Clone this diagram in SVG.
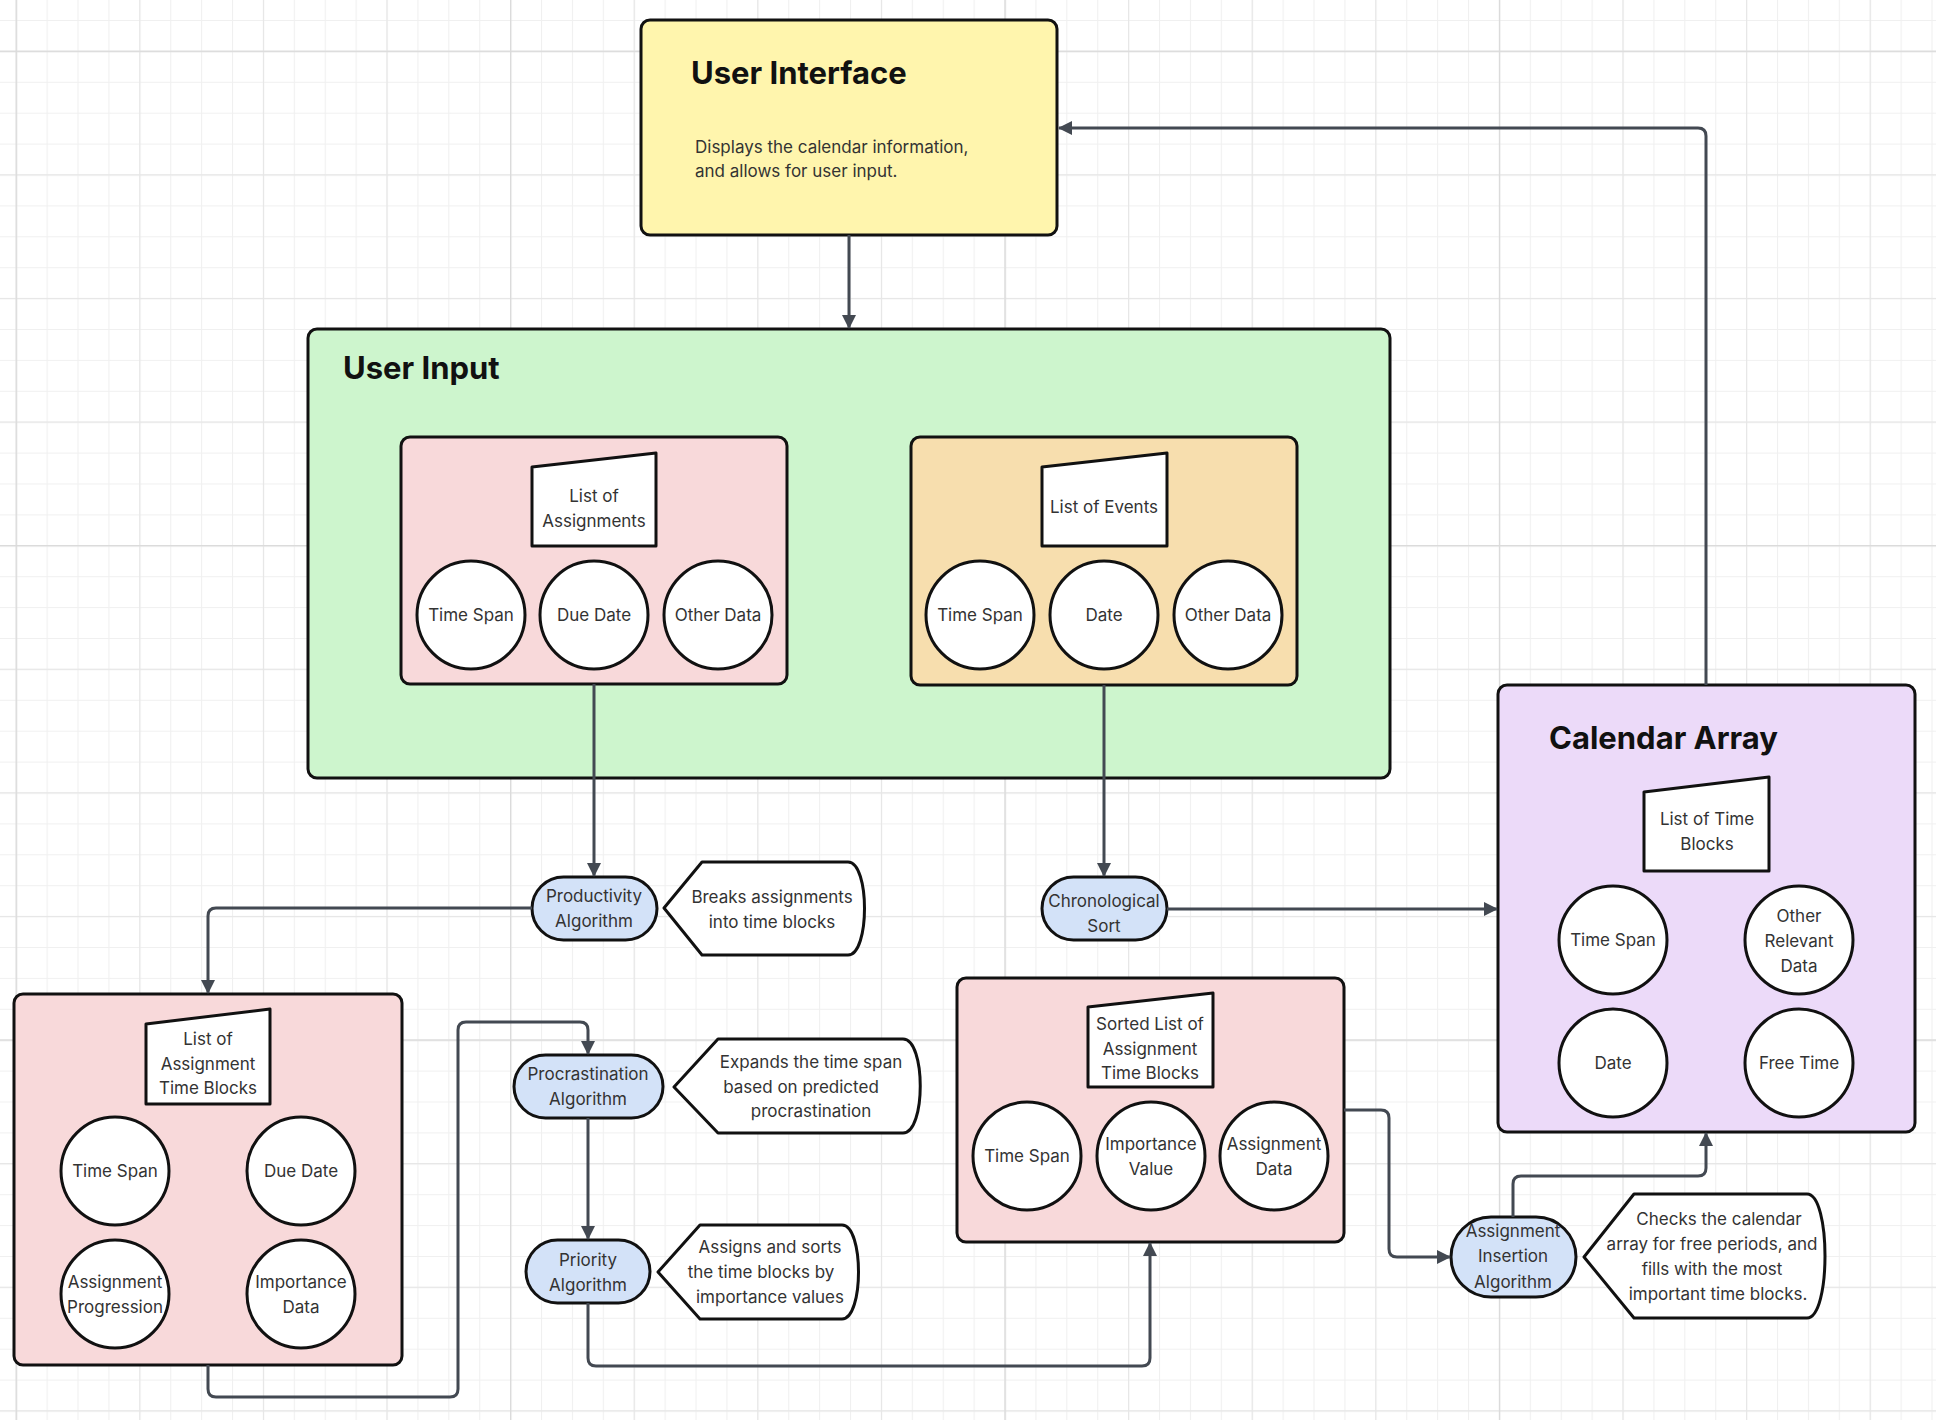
<svg xmlns="http://www.w3.org/2000/svg" width="1936" height="1420" viewBox="0 0 1936 1420">
<style>
  text { font-family: Inter, "Liberation Sans", sans-serif; }
  .title { font-size: 31px; font-weight: 700; fill: #111; }
  .lbl { font-size: 17px; fill: #333; text-anchor: middle; }
  .desc { font-size: 17px; fill: #333; }
  .box { stroke: #111; stroke-width: 3; }
  .circ { fill: #fff; stroke: #111; stroke-width: 3; }
  .list { fill: #fff; stroke: #111; stroke-width: 3; stroke-linejoin: round; }
  .algo { fill: #d3e2f8; stroke: #111; stroke-width: 3; }
  .callout { fill: #fff; stroke: #111; stroke-width: 3; stroke-linejoin: round; }
  .conn { fill: none; stroke: #434952; stroke-width: 3; marker-end: url(#arrow); }
</style>
<defs>
  <marker id="arrow" markerUnits="userSpaceOnUse" markerWidth="14" markerHeight="14" refX="13" refY="7" orient="auto">
    <path d="M0,0 L14,7 L0,14 Z" fill="#434952"/>
  </marker>
  <pattern id="gMinor" patternUnits="userSpaceOnUse" x="15.7" y="20" width="30.9" height="30.9">
    <path d="M0.5,0 V30.9 M0,0.5 H30.9" stroke="#f0f0f0" stroke-width="1.2" fill="none"/>
  </pattern>
  <pattern id="gMid" patternUnits="userSpaceOnUse" x="15.7" y="50.7" width="123.6" height="123.6">
    <path d="M0.5,0 V123.6 M0,0.5 H123.6" stroke="#e6e6e6" stroke-width="1.3" fill="none"/>
  </pattern>
  <pattern id="gMajor" patternUnits="userSpaceOnUse" x="15.7" y="50.7" width="494.4" height="494.4">
    <path d="M0.5,0 V494.4 M0,0.5 H494.4" stroke="#dadada" stroke-width="1.5" fill="none"/>
  </pattern>
</defs>

<rect x="0" y="0" width="1936" height="1420" fill="#ffffff"/>
<rect x="0" y="0" width="1936" height="1420" fill="url(#gMinor)"/>
<rect x="0" y="0" width="1936" height="1420" fill="url(#gMid)"/>
<rect x="0" y="0" width="1936" height="1420" fill="url(#gMajor)"/>

<!-- User Interface -->
<g id="user-interface">
  <rect class="box" x="641" y="20" width="416" height="215" rx="9" fill="#fff5ad"/>
  <text class="title" x="691" y="84">User Interface</text>
  <text class="desc" x="695" y="153">Displays the calendar information,</text>
  <text class="desc" x="695" y="177">and allows for user input.</text>
</g>

<!-- User Input -->
<g id="user-input">
  <rect class="box" x="308" y="329" width="1082" height="449" rx="9" fill="#cdf5cd"/>
  <text class="title" x="343" y="379">User Input</text>
</g>

<g id="assignments-group">
  <rect class="box" x="401" y="437" width="386" height="247" rx="9" fill="#f8d9da"/>
  <path class="list" d="M532,467 L656,453 V546 H532 Z"/>
  <text class="lbl" x="594" y="502">List of</text>
  <text class="lbl" x="594" y="527">Assignments</text>
  <circle class="circ" cx="471" cy="615" r="54"/>
  <text class="lbl" x="471" y="621">Time Span</text>
  <circle class="circ" cx="594" cy="615" r="54"/>
  <text class="lbl" x="594" y="621">Due Date</text>
  <circle class="circ" cx="718" cy="615" r="54"/>
  <text class="lbl" x="718" y="621">Other Data</text>
</g>

<g id="events-group">
  <rect class="box" x="911" y="437" width="386" height="248" rx="9" fill="#f7deae"/>
  <path class="list" d="M1042,467 L1167,453 V546 H1042 Z"/>
  <text class="lbl" x="1104" y="513">List of Events</text>
  <circle class="circ" cx="980" cy="615" r="54"/>
  <text class="lbl" x="980" y="621">Time Span</text>
  <circle class="circ" cx="1104" cy="615" r="54"/>
  <text class="lbl" x="1104" y="621">Date</text>
  <circle class="circ" cx="1228" cy="615" r="54"/>
  <text class="lbl" x="1228" y="621">Other Data</text>
</g>

<!-- Calendar Array -->
<g id="calendar-array">
  <rect class="box" x="1498" y="685" width="417" height="447" rx="9" fill="#ecdaf9"/>
  <text class="title" x="1549" y="749">Calendar Array</text>
  <path class="list" d="M1644,792 L1769,777 V871 H1644 Z"/>
  <text class="lbl" x="1707" y="825">List of Time</text>
  <text class="lbl" x="1707" y="850">Blocks</text>
  <circle class="circ" cx="1613" cy="940" r="54"/>
  <text class="lbl" x="1613" y="946">Time Span</text>
  <circle class="circ" cx="1799" cy="940" r="54"/>
  <text class="lbl" x="1799" y="922">Other</text>
  <text class="lbl" x="1799" y="947">Relevant</text>
  <text class="lbl" x="1799" y="972">Data</text>
  <circle class="circ" cx="1613" cy="1063" r="54"/>
  <text class="lbl" x="1613" y="1069">Date</text>
  <circle class="circ" cx="1799" cy="1063" r="54"/>
  <text class="lbl" x="1799" y="1069">Free Time</text>
</g>

<!-- Assignment time blocks -->
<g id="assignment-time-blocks">
  <rect class="box" x="14" y="994" width="388" height="371" rx="9" fill="#f8d9da"/>
  <path class="list" d="M146,1024 L270,1009 V1104 H146 Z"/>
  <text class="lbl" x="208" y="1045">List of</text>
  <text class="lbl" x="208" y="1070">Assignment</text>
  <text class="lbl" x="208" y="1094">Time Blocks</text>
  <circle class="circ" cx="115" cy="1171" r="54"/>
  <text class="lbl" x="115" y="1177">Time Span</text>
  <circle class="circ" cx="301" cy="1171" r="54"/>
  <text class="lbl" x="301" y="1177">Due Date</text>
  <circle class="circ" cx="115" cy="1294" r="54"/>
  <text class="lbl" x="115" y="1288">Assignment</text>
  <text class="lbl" x="115" y="1313">Progression</text>
  <circle class="circ" cx="301" cy="1294" r="54"/>
  <text class="lbl" x="301" y="1288">Importance</text>
  <text class="lbl" x="301" y="1313">Data</text>
</g>

<!-- Sorted list -->
<g id="sorted-time-blocks">
  <rect class="box" x="957" y="978" width="387" height="264" rx="9" fill="#f8d9da"/>
  <path class="list" d="M1088,1007 L1213,993 V1087 H1088 Z"/>
  <text class="lbl" x="1150" y="1030">Sorted List of</text>
  <text class="lbl" x="1150" y="1055">Assignment</text>
  <text class="lbl" x="1150" y="1079">Time Blocks</text>
  <circle class="circ" cx="1027" cy="1156" r="54"/>
  <text class="lbl" x="1027" y="1162">Time Span</text>
  <circle class="circ" cx="1151" cy="1156" r="54"/>
  <text class="lbl" x="1151" y="1150">Importance</text>
  <text class="lbl" x="1151" y="1175">Value</text>
  <circle class="circ" cx="1274" cy="1156" r="54"/>
  <text class="lbl" x="1274" y="1150">Assignment</text>
  <text class="lbl" x="1274" y="1175">Data</text>
</g>

<!-- Algorithms -->
<g id="productivity-algorithm">
  <rect class="algo" x="532" y="877" width="125" height="63" rx="31.5"/>
  <text class="lbl" x="594" y="902">Productivity</text>
  <text class="lbl" x="594" y="927">Algorithm</text>
</g>
<g id="productivity-note">
  <path class="callout" d="M664,908 L702,862 H848 C870,862 870,955 848,955 H702 Z"/>
  <text class="lbl" x="772" y="903">Breaks assignments</text>
  <text class="lbl" x="772" y="928">into time blocks</text>
</g>

<g id="chronological-sort">
  <rect class="algo" x="1042" y="877" width="125" height="63" rx="31.5"/>
  <text class="lbl" x="1104" y="907">Chronological</text>
  <text class="lbl" x="1104" y="932">Sort</text>
</g>

<g id="procrastination-algorithm">
  <rect class="algo" x="514" y="1055" width="149" height="63" rx="31.5"/>
  <text class="lbl" x="588" y="1080">Procrastination</text>
  <text class="lbl" x="588" y="1105">Algorithm</text>
</g>
<g id="procrastination-note">
  <path class="callout" d="M674,1087 L718,1039 H903 C926,1039 926,1133 903,1133 H718 Z"/>
  <text class="lbl" x="811" y="1068">Expands the time span</text>
  <text class="lbl" x="801" y="1093">based on predicted</text>
  <text class="lbl" x="811" y="1117">procrastination</text>
</g>

<g id="priority-algorithm">
  <rect class="algo" x="526" y="1240" width="124" height="63" rx="31.5"/>
  <text class="lbl" x="588" y="1266">Priority</text>
  <text class="lbl" x="588" y="1291">Algorithm</text>
</g>
<g id="priority-note">
  <path class="callout" d="M658,1272 L700,1225 H842 C864,1225 864,1319 842,1319 H700 Z"/>
  <text class="lbl" x="770" y="1253">Assigns and sorts</text>
  <text class="lbl" x="761" y="1278">the time blocks by</text>
  <text class="lbl" x="770" y="1303">importance values</text>
</g>

<g id="assignment-insertion-algorithm">
  <rect class="algo" x="1451" y="1217" width="125" height="80" rx="40"/>
  <text class="lbl" x="1513" y="1237">Assignment</text>
  <text class="lbl" x="1513" y="1262">Insertion</text>
  <text class="lbl" x="1513" y="1288">Algorithm</text>
</g>
<g id="insertion-note">
  <path class="callout" d="M1584,1257 L1634,1194 H1807 C1831,1194 1831,1318 1807,1318 H1634 Z"/>
  <text class="lbl" x="1719" y="1225">Checks the calendar</text>
  <text class="lbl" x="1712" y="1250">array for free periods, and</text>
  <text class="lbl" x="1712" y="1275">fills with the most</text>
  <text class="lbl" x="1718" y="1300">important time blocks.</text>
</g>

<!-- Connectors -->
<g id="connectors">
  <path class="conn" d="M849,235 V328"/>
  <path class="conn" d="M1706,685 V136 Q1706,128 1698,128 H1059"/>
  <path class="conn" d="M594,684 V876"/>
  <path class="conn" d="M1104,685 V876"/>
  <path class="conn" d="M532,908 H216 Q208,908 208,916 V993"/>
  <path class="conn" d="M208,1365 V1389 Q208,1397 216,1397 H450 Q458,1397 458,1389 V1030 Q458,1022 466,1022 H580 Q588,1022 588,1030 V1054"/>
  <path class="conn" d="M588,1118 V1239"/>
  <path class="conn" d="M588,1303 V1358 Q588,1366 596,1366 H1142 Q1150,1366 1150,1358 V1243"/>
  <path class="conn" d="M1344,1110 H1381 Q1389,1110 1389,1118 V1249 Q1389,1257 1397,1257 H1450"/>
  <path class="conn" d="M1167,909 H1497"/>
  <path class="conn" d="M1513,1217 V1184 Q1513,1176 1521,1176 H1698 Q1706,1176 1706,1168 V1133"/>
</g>
</svg>
